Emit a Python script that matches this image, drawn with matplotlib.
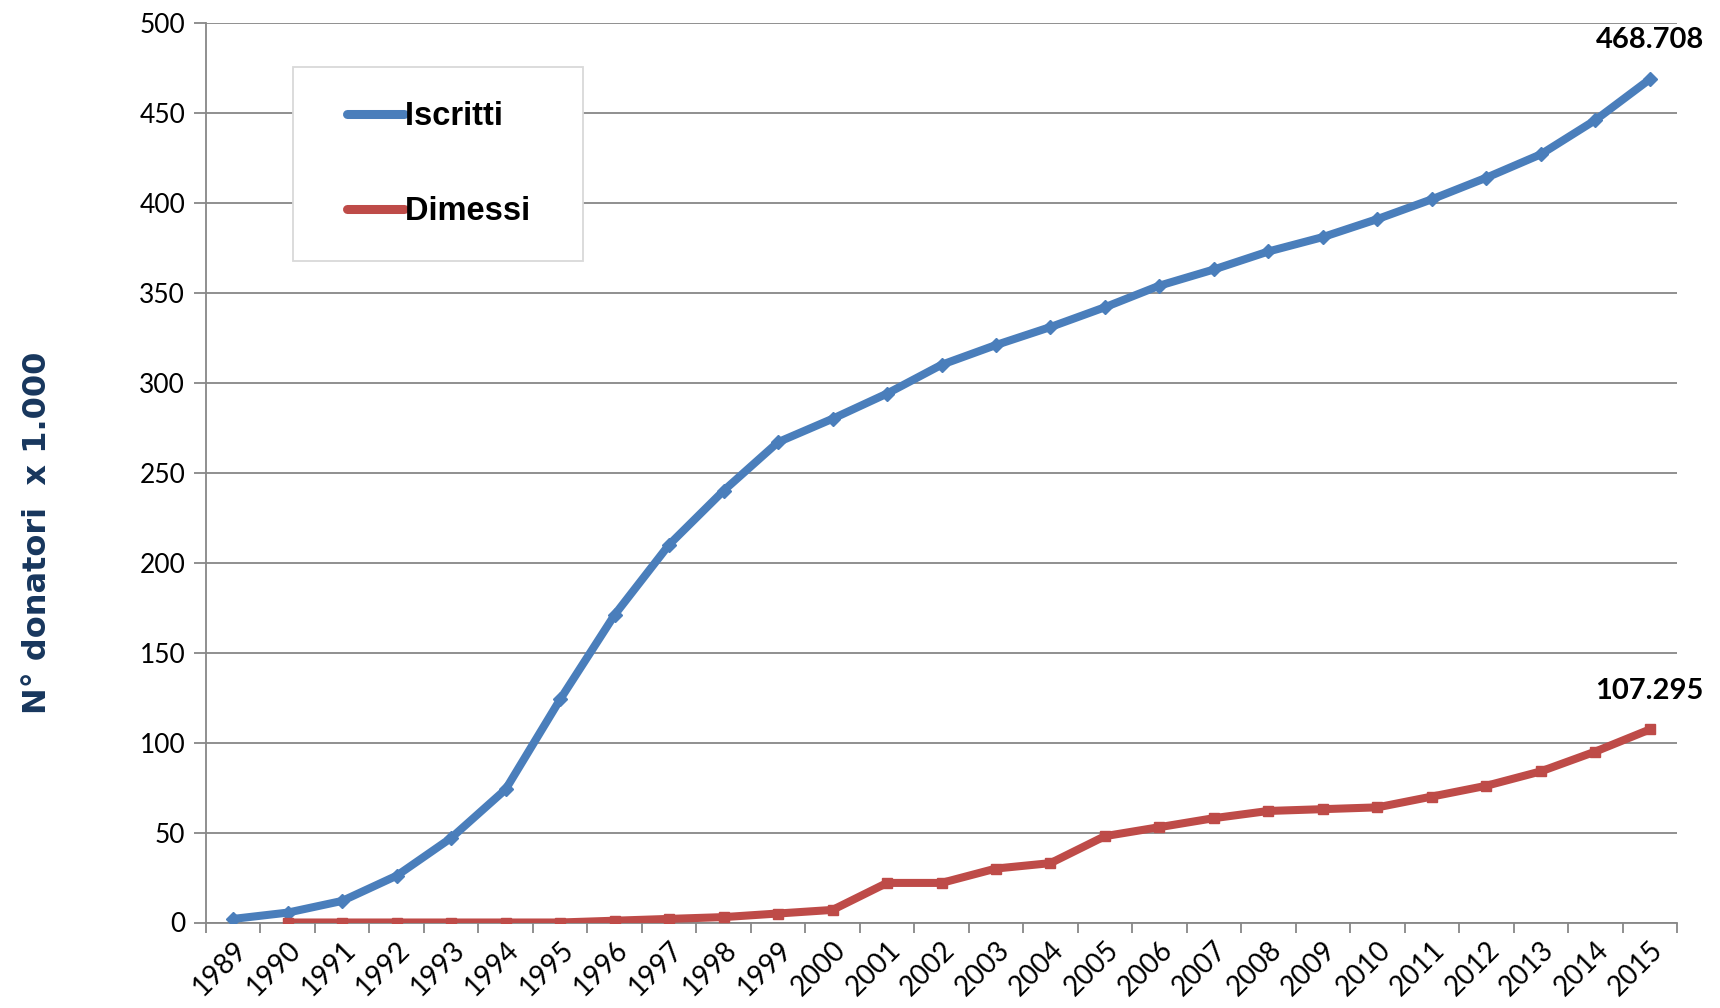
import numpy as np
import matplotlib
matplotlib.use("Agg")
import matplotlib.pyplot as plt
from matplotlib.legend_handler import HandlerLine2D

# Data (values in thousands)
years = [str(y) for y in range(1989, 2016)]
iscritti = [2, 5.5, 12, 26, 47, 74, 124, 171, 210, 240, 267, 280, 294, 310, 321,
            331, 342, 354, 363, 373, 381, 391, 402, 414, 427, 446, 468.708]
# Dimessi starts in 1990
dimessi_years = years[1:]
dimessi = [0, 0, 0, 0, 0, 0, 1, 2, 3, 5, 7, 22, 22, 30, 33,
           48, 53, 58, 62, 63, 64, 70, 76, 84, 95, 107.295]
last_labels = ["468.708", "107.295"]

blue = "#4A7EBB"
red = "#BE4B48"
grid = "#878787"

fig = plt.figure(figsize=(17.2, 10.08), dpi=100)
ax = fig.add_axes([206 / 1720, 1 - 922.5 / 1008, (1677 - 206) / 1720, (922.5 - 23) / 1008])

x = np.arange(len(years))
xd = x[1:]
ax.plot(x, iscritti, color=blue, lw=5.8, marker="D", ms=7, mec=blue, label="Iscritti",
        solid_capstyle="round", solid_joinstyle="round", zorder=3)
ax.plot(xd, dimessi, color=red, lw=5.8, marker="s", ms=7, mec=red, label="Dimessi",
        solid_capstyle="round", solid_joinstyle="round", zorder=3)

ax.set_xlim(-0.5, len(years) - 0.5)
ax.set_ylim(0, 500)
ax.set_yticks(np.arange(0, 501, 50))
ax.yaxis.grid(True, color=grid, lw=1.3)
ax.set_axisbelow(True)

ax.set_xticks(x)
ax.set_xticklabels(years, rotation=45, ha="right", rotation_mode="anchor",
                   fontsize=20, family="Lato")
ax.set_xticks(np.arange(-0.5, len(years), 1), minor=True)
ax.tick_params(axis="x", which="major", length=0, pad=10)
ax.tick_params(axis="x", which="minor", length=7, width=1.3, color=grid)
ax.tick_params(axis="y", length=9, width=1.3, color=grid, pad=6)
for lab in ax.get_yticklabels():
    lab.set_fontsize(19)
    lab.set_family("Lato")

for s in ["top", "right"]:
    ax.spines[s].set_visible(False)
for s in ["left", "bottom"]:
    ax.spines[s].set_color(grid)
    ax.spines[s].set_linewidth(1.3)

ax.annotate(last_labels[0], (x[-1], iscritti[-1]), xytext=(0, 28), textcoords="offset points",
            ha="center", va="center", fontsize=21, fontweight="bold", family="Lato")
ax.annotate(last_labels[1], (xd[-1], dimessi[-1]), xytext=(0, 28), textcoords="offset points",
            ha="center", va="center", fontsize=21, fontweight="bold", family="Lato")

hnd = HandlerLine2D(xpad=0.6)
handles, labels = ax.get_legend_handles_labels()
leg = ax.legend(handles, [l + "  " for l in labels],
                loc="upper left", bbox_to_anchor=(0.059, 0.951), borderaxespad=0,
                fancybox=False, edgecolor="#d9d9d9", framealpha=1,
                prop={"family": "Liberation Sans", "weight": "bold", "size": 23.5},
                handlelength=2.35, handletextpad=0.05, labelspacing=1.95,
                borderpad=1.05, markerscale=0.6,
                handler_map={h: hnd for h in handles})
leg.get_frame().set_linewidth(1.3)
for h in leg.get_lines():
    h.set_linewidth(6.5)

fig.text(38 / 1720, 1 - 533 / 1008, "N° donatori  x 1.000", rotation=90,
         ha="center", va="center", fontsize=23, fontweight="bold",
         family="DejaVu Sans", color="#17365D")

fig.savefig("out.png", dpi=100)
